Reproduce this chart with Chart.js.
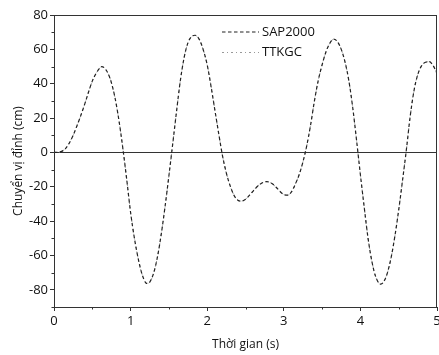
<!DOCTYPE html>
<html>
<head>
<meta charset="utf-8">
<script src="https://cdn.jsdelivr.net/npm/chart.js@4.4.0/dist/chart.umd.min.js"></script>
<style>
body{margin:0;background:#fff}
#wrap{width:439px;height:355px;position:relative}
</style>
</head>
<body>
<div id="wrap"><canvas id="myChart"></canvas></div>
<script>

// thoi gian (s)
var temps = [0, 0.05, 0.1, 0.15, 0.2, 0.25, 0.3, 0.35, 0.4, 0.45, 0.5, 0.55, 0.6, 0.62, 0.65,
  0.7, 0.75, 0.8, 0.85, 0.9, 0.95, 1.0, 1.05, 1.1, 1.15, 1.2, 1.22, 1.25, 1.3, 1.35,
  1.4, 1.45, 1.5, 1.55, 1.6, 1.65, 1.7, 1.75, 1.8, 1.84, 1.9, 1.95, 2.0, 2.05, 2.1,
  2.15, 2.2, 2.25, 2.3, 2.35, 2.4, 2.44, 2.5, 2.55, 2.6, 2.65, 2.7, 2.75, 2.78, 2.85,
  2.9, 2.95, 3.0, 3.05, 3.1, 3.15, 3.2, 3.25, 3.3, 3.35, 3.4, 3.45, 3.5, 3.55, 3.6,
  3.65, 3.7, 3.75, 3.8, 3.85, 3.9, 3.95, 4.0, 4.05, 4.1, 4.15, 4.2, 4.265, 4.3, 4.35,
  4.4, 4.45, 4.5, 4.55, 4.6, 4.65, 4.7, 4.75, 4.8, 4.85, 4.9, 4.95, 5.0];

// chuyen vi dinh (cm)
var sap2000 = [0, 0.1, 0.6, 2.2, 5.5, 10, 15.5, 21.5, 28, 35, 41.5, 46, 49.2, 49.9, 49.5,
  46.5, 40.5, 31, 18, 2, -16, -35, -50, -62, -71, -76, -76.3, -75.5, -70.4, -61,
  -47.6, -31.5, -13.6, 5, 24, 42, 55.5, 64, 67.6, 68.2, 65.5, 59.5, 51, 38.5, 24.7,
  11, -2, -12, -19.5, -25, -27.8, -28.4, -27.3, -25, -22.5, -20, -18.2, -17.2, -17, -18.3,
  -20.3, -22.7, -24.5, -24.9, -23, -18.5, -13, -5.5, 4, 16, 30, 42, 51, 58.5, 63.5,
  65.9, 64.5, 60, 52.5, 41.5, 26, 7, -13, -32, -50, -63.5, -72.4, -76.7, -75.6, -70.5,
  -61.4, -48.8, -33.5, -16.3, 1.5, 21, 36, 45.5, 50.5, 52.5, 52.8, 50.5, 46];

var ttkgc = [0, 0.1, 0.6, 2.2, 5.5, 10, 15.5, 21.5, 28, 35, 41.5, 46, 49.2, 49.9, 49.5,
  46.5, 40.5, 31, 18, 2, -16, -35, -50, -62, -71, -76, -76.3, -75.5, -70.4, -61,
  -47.6, -31.5, -13.6, 5, 24, 42, 55.5, 64, 67.6, 68.2, 65.5, 59.5, 51, 38.5, 24.7,
  11, -2, -12, -19.5, -25, -27.8, -28.4, -27.3, -25, -22.5, -20, -18.2, -17.2, -17, -18.3,
  -20.3, -22.7, -24.5, -24.9, -23, -18.5, -13, -5.5, 4, 16, 30, 42, 51, 58.5, 63.5,
  65.9, 64.5, 60, 52.5, 41.5, 26, 7, -13, -32, -50, -63.5, -72.4, -76.7, -75.6, -70.5,
  -61.4, -48.8, -33.5, -16.3, 1.5, 21, 36, 45.5, 50.5, 52.5, 52.8, 50.5, 46];

var xTicks = [0, 1, 2, 3, 4, 5];
var xMinor = [0.5, 1.5, 2.5, 3.5, 4.5];
var yTicks = [-80, -60, -40, -20, 0, 20, 40, 60, 80];
var yMinor = [-90, -70, -50, -30, -10, 10, 30, 50, 70];

function points(ys){
  var p = [];
  for (var i = 0; i < temps.length; i++) p.push({x: temps[i], y: ys[i]});
  return p;
}

// cadre + petites graduations
var cadre = {
  id: 'cadre',
  afterDraw: function(chart){
    var ctx = chart.ctx, a = chart.chartArea;
    var sx = chart.scales.x, sy = chart.scales.y;
    ctx.save();
    ctx.strokeStyle = '#333';
    ctx.lineWidth = 1;
    ctx.strokeRect(a.left + 0.5, a.top + 0.5, a.right - a.left - 1, a.bottom - a.top);
    ctx.beginPath();
    xMinor.forEach(function(v){
      var px = Math.round(sx.getPixelForValue(v)) + 0.5;
      ctx.moveTo(px, a.bottom); ctx.lineTo(px, a.bottom + 2.5);
    });
    yMinor.forEach(function(v){
      var py = Math.round(sy.getPixelForValue(v)) + 0.5;
      ctx.moveTo(a.left, py); ctx.lineTo(a.left - 2.5, py);
    });
    ctx.stroke();
    ctx.restore();
  }
};

// legende dans le graphe
var legende = {
  id: 'legende',
  afterDatasetsDraw: function(chart){
    var ctx = chart.ctx, a = chart.chartArea;
    chart.data.datasets.forEach(function(ds, i){
      var y = a.top + 17 + i * 20.5;
      var x0 = a.left + 168;
      ctx.save();
      ctx.strokeStyle = ds.borderColor;
      ctx.lineWidth = ds.borderWidth;
      ctx.setLineDash(ds.borderDash);
      ctx.beginPath(); ctx.moveTo(x0, y); ctx.lineTo(x0 + 37, y); ctx.stroke();
      ctx.setLineDash([]);
      ctx.fillStyle = '#111';
      ctx.font = '13px "Open Sans"';
      ctx.textBaseline = 'middle';
      ctx.fillText(ds.label, x0 + 40, y);
      ctx.restore();
    });
  }
};

Chart.defaults.font.family = '"Open Sans", sans-serif';
Chart.defaults.color = '#111';

var ctx = document.getElementById('myChart').getContext('2d');
var graphe = new Chart(ctx, {
  type: 'line',
  data: {
    datasets: [
      {label: 'SAP2000', data: points(sap2000), borderColor: '#222', borderWidth: 1.2,
        borderDash: [3.5, 2.5], pointRadius: 0, cubicInterpolationMode: 'monotone', fill: false},
      {label: 'TTKGC', data: points(ttkgc), borderColor: '#999', borderWidth: 1,
        borderDash: [2, 3, 1, 3], pointRadius: 0, cubicInterpolationMode: 'monotone', fill: false}
    ]
  },
  options: {
    responsive: true,
    maintainAspectRatio: false,
    animation: false,
    layout: {padding: {top: 15, right: 2, left: 0, bottom: 0}},
    plugins: {legend: {display: false}, tooltip: {enabled: false}},
    scales: {
      x: {
        type: 'linear', min: 0, max: 5,
        afterBuildTicks: function(s){ s.ticks = xTicks.map(function(v){ return {value: v}; }); },
        afterFit: function(s){ s.height = 48; s.paddingLeft = 0; s.paddingRight = 0; },
        ticks: {font: {size: 13}, padding: 2, autoSkip: false, maxRotation: 0},
        grid: {drawOnChartArea: false, tickLength: 4, tickColor: '#333'},
        border: {color: '#333'},
        title: {display: true, text: 'Thời gian (s)', font: {size: 12}, padding: {top: 0, bottom: 3}}
      },
      y: {
        min: -90, max: 80,
        afterBuildTicks: function(s){ s.ticks = yTicks.map(function(v){ return {value: v}; }); },
        afterFit: function(s){ s.width = 54; s.paddingTop = 0; s.paddingBottom = 0; },
        ticks: {font: {size: 13}, padding: 2, autoSkip: false},
        grid: {
          color: function(c){ return c.tick && c.tick.value === 0 ? '#333' : 'rgba(0,0,0,0)'; },
          tickLength: 4, tickColor: '#333'
        },
        border: {color: '#333'},
        title: {display: true, text: 'Chuyển vị đỉnh (cm)', font: {size: 12}, padding: {top: 11, bottom: 0}}
      }
    }
  },
  plugins: [cadre, legende]
});
</script>
</body>
</html>
